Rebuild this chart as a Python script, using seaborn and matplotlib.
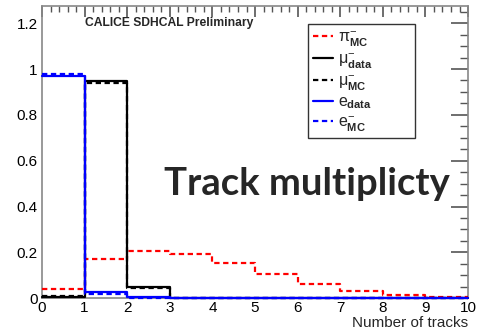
import numpy as np
import pandas as pd
import matplotlib
matplotlib.use("Agg")
import matplotlib.pyplot as plt
from matplotlib.lines import Line2D
from matplotlib.ticker import MultipleLocator, FixedLocator, FixedFormatter
import seaborn as sns

# ---- data (bin contents) ----
bin_edges = [0, 1, 2, 3, 4, 5, 6, 7, 8, 9, 10]
pi_mc   = [0.040, 0.170, 0.207, 0.194, 0.153, 0.105, 0.061, 0.030, 0.014, 0.006]
mu_data = [0.007, 0.948, 0.050, 0.0, 0.0, 0.0, 0.0, 0.0, 0.0, 0.0]
mu_mc   = [0.010, 0.937, 0.043, 0.0, 0.0, 0.0, 0.0, 0.0, 0.0, 0.0]
e_data  = [0.968, 0.025, 0.003, 0.0, 0.0, 0.0, 0.0, 0.0, 0.0, 0.0]
e_mc    = [0.980, 0.016, 0.002, 0.0, 0.0, 0.0, 0.0, 0.0, 0.0, 0.0]
x_ticks = [0, 1, 2, 3, 4, 5, 6, 7, 8, 9, 10]
y_ticks = [0, 0.2, 0.4, 0.6, 0.8, 1.0, 1.2]
y_tick_labels = ["0", "0.2", "0.4", "0.6", "0.8", "1", "1.2"]
legend_labels = [r"$\pi^{-}_{\mathbf{MC}}$", r"$\mu^{-}_{\mathbf{data}}$",
                 r"$\mu^{-}_{\mathbf{MC}}$", r"$e_{\mathbf{data}}$",
                 r"$e^{-}_{\mathbf{MC}}$"]

sns.set_style("white")
plt.rcParams["font.family"] = ["Liberation Sans", "DejaVu Sans"]
plt.rcParams["mathtext.fontset"] = "custom"
plt.rcParams["mathtext.rm"] = "Liberation Sans"
plt.rcParams["mathtext.it"] = "Liberation Sans"
plt.rcParams["mathtext.bf"] = "Liberation Sans:bold"

fig = plt.figure(figsize=(4.83, 3.35), dpi=100)
ax = fig.add_axes([0.087, 0.110, 0.882, 0.872])

centers = np.array(bin_edges[:-1]) + 0.5
lw = 1.6
dash = (0, (2.4, 1.6))
series = [
    (pi_mc, "#ff0000", dash),
    (mu_data, "black", "-"),
    (mu_mc, "black", dash),
    (e_data, "#0000ff", "-"),
    (e_mc, "#0000ff", dash),
]
for vals, col, ls in series:
    df = pd.DataFrame({"x": centers, "w": vals})
    sns.histplot(data=df, x="x", weights="w", bins=bin_edges, element="step",
                 fill=False, color=col, linewidth=lw, linestyle=ls, ax=ax,
                 clip_on=False, zorder=3)

ax.set_xlim(0, 10)
ax.set_ylim(0, 1.275)
ax.set_ylabel("")
ax.xaxis.set_major_locator(FixedLocator(x_ticks))
ax.xaxis.set_minor_locator(MultipleLocator(0.2))
ax.yaxis.set_major_locator(FixedLocator(y_ticks))
ax.yaxis.set_major_formatter(FixedFormatter(y_tick_labels))
ax.yaxis.set_minor_locator(MultipleLocator(0.05))
ax.tick_params(which="both", direction="in", top=True, right=True,
               color="#555555", labelsize=11, labelcolor="black")
ax.tick_params(axis="y", which="major", length=12, width=1.2, pad=3)
ax.tick_params(axis="y", which="minor", length=6, width=1.0)
ax.tick_params(axis="x", which="major", length=8, width=1.2, pad=2)
ax.tick_params(axis="x", which="minor", length=4, width=1.0)
for s in ax.spines.values():
    s.set_color("#888888")
    s.set_linewidth(1.2)

ax.set_xlabel("Number of tracks", loc="right", fontsize=11, labelpad=1)

ax.text(0.101, 0.942, "CALICE SDHCAL Preliminary", transform=ax.transAxes,
        fontsize=8.7, fontweight="bold", ha="left", va="center")
ax.text(0.622, 0.39, "Track multiplicty", transform=ax.transAxes,
        fontsize=27.5, fontweight="bold", ha="center", va="center",
        family=["Lato", "DejaVu Sans"])

handles = [Line2D([], [], color=c, linewidth=lw, linestyle=ls) for _, c, ls in series]
leg = ax.legend(handles, legend_labels, loc="upper left",
                bbox_to_anchor=(0.624, 0.938, 0.252, 0.0), mode="expand",
                fontsize=11.5, frameon=True, fancybox=False, borderaxespad=0,
                handlelength=1.3, handletextpad=0.3, labelspacing=0.18,
                borderpad=0.3)
leg.get_frame().set_edgecolor("black")
leg.get_frame().set_linewidth(1.0)

fig.savefig("out.png", dpi=100)
